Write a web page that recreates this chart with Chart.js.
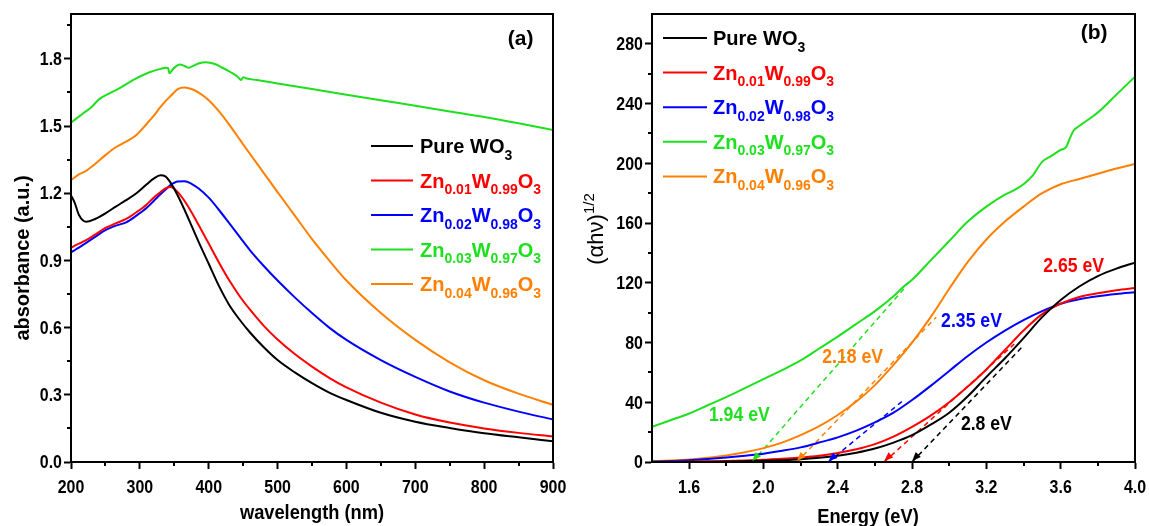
<!DOCTYPE html>
<html>
<head>
<meta charset="utf-8">
<title>Zn-doped WO3 optical absorption</title>
<script src="https://cdn.jsdelivr.net/npm/chart.js@4.4.1/dist/chart.umd.min.js"></script>
<style>
  html, body { margin: 0; padding: 0; background: #fff; }
  body { width: 1149px; height: 526px; position: relative; overflow: hidden; }
  .panel { position: absolute; top: 0; height: 526px; }
  #panelA { left: 0; width: 580px; }
  #panelB { left: 580px; width: 569px; }
</style>
</head>
<body>
<div class="panel" id="panelA"><canvas id="absChart"></canvas></div>
<div class="panel" id="panelB"><canvas id="taucChart"></canvas></div>
<script>
'use strict';

const FONT = "'Liberation Sans', Arial, Helvetica, sans-serif";
const SQUEEZE = 0.84;   // the axis lettering is set condensed

// sample names (_{..} = subscript) and colours
const names  = ['Pure WO_{3}', 'Zn_{0.01}W_{0.99}O_{3}', 'Zn_{0.02}W_{0.98}O_{3}', 'Zn_{0.03}W_{0.97}O_{3}', 'Zn_{0.04}W_{0.96}O_{3}'];
const colors = ['#000000', '#ff0000', '#0000ff', '#1ee01e', '#ff8000'];

/* (a) absorbance vs wavelength */
const wavelength = [200, 205, 212, 222, 235, 250, 265, 280, 295, 310, 320, 330, 337, 345, 355, 365, 375, 385,
                    400, 415, 430, 445, 460, 480, 500, 525, 550, 575, 600, 650, 700, 750, 800, 850, 900];
const absPure = [1.19, 1.16, 1.10, 1.072, 1.085, 1.11, 1.14, 1.169, 1.20, 1.24, 1.265, 1.28, 1.275, 1.245, 1.19, 1.125, 1.055, 0.985,
                 0.885, 0.785, 0.70, 0.635, 0.578, 0.512, 0.455, 0.40, 0.352, 0.31, 0.277, 0.22, 0.18, 0.152, 0.128, 0.11, 0.093];
const absZn01 = [0.956, 0.965, 0.975, 0.99, 1.015, 1.045, 1.065, 1.085, 1.115, 1.15, 1.18, 1.205, 1.222, 1.228, 1.205, 1.165, 1.115, 1.06,
                 0.975, 0.89, 0.81, 0.74, 0.68, 0.608, 0.547, 0.482, 0.426, 0.376, 0.333, 0.265, 0.212, 0.176, 0.15, 0.13, 0.114];
const absZn02 = [0.936, 0.945, 0.958, 0.978, 1.005, 1.035, 1.055, 1.07, 1.10, 1.135, 1.165, 1.195, 1.215, 1.237, 1.252, 1.253, 1.242, 1.222,
                 1.18, 1.125, 1.065, 1.005, 0.945, 0.875, 0.81, 0.735, 0.665, 0.60, 0.545, 0.455, 0.38, 0.315, 0.265, 0.225, 0.19];
const absZn04 = [1.258, 1.27, 1.285, 1.30, 1.33, 1.37, 1.405, 1.43, 1.46, 1.51, 1.545, 1.585, 1.61, 1.635, 1.665, 1.672, 1.665, 1.65,
                 1.615, 1.565, 1.505, 1.44, 1.375, 1.29, 1.205, 1.10, 0.995, 0.90, 0.81, 0.665, 0.545, 0.445, 0.365, 0.305, 0.255];
// the Zn0.03 scan has its own points (small steps near 342, 372 and 448 nm)
const waveZn03 = [200, 217, 230, 241, 255, 270, 290, 314, 330, 338, 341, 343, 347, 352, 358, 365, 371, 375, 386,
                  396, 408, 420, 432, 442, 447, 450, 455, 470, 500, 550, 600, 650, 700, 750, 800, 850, 900];
const absZn03  = [1.515, 1.555, 1.585, 1.62, 1.645, 1.668, 1.705, 1.74, 1.755, 1.76, 1.758, 1.735, 1.75, 1.765, 1.774, 1.768, 1.76, 1.765, 1.78,
                  1.785, 1.778, 1.76, 1.74, 1.72, 1.705, 1.718, 1.712, 1.705, 1.69, 1.665, 1.64, 1.615, 1.59, 1.565, 1.54, 1.512, 1.482];

const waveTicks = [200, 300, 400, 500, 600, 700, 800, 900];
const waveMinor = [250, 350, 450, 550, 650, 750, 850];
const absTicks  = [0, 0.3, 0.6, 0.9, 1.2, 1.5, 1.8];
const absMinor  = [0.15, 0.45, 0.75, 1.05, 1.35, 1.65, 1.95];

/* (b) Tauc plot, (alpha h nu)^1/2 vs photon energy */
const energy = [1.4, 1.5, 1.6, 1.7, 1.8, 1.9, 2.0, 2.1, 2.2, 2.3, 2.4, 2.5, 2.6, 2.7,
                2.8, 2.9, 3.0, 3.1, 3.2, 3.3, 3.4, 3.5, 3.6, 3.7, 3.8, 3.9, 4.0];
const taucPure = [0, 0, 0.1, 0.2, 0.3, 0.5, 0.8, 1.2, 1.8, 2.8, 4.2, 6.2, 9, 13,
                  18, 25, 33, 44, 57, 69.5, 83, 97, 108.5, 117.5, 124.5, 129.5, 133.5];
const taucZn01 = [0, 0.1, 0.3, 0.5, 0.7, 1.0, 1.5, 2.1, 3, 4.2, 6, 8.5, 12, 17,
                  23.5, 31, 40, 50.5, 62, 75, 88, 99, 106, 110.5, 113, 115, 116.5];
const taucZn02 = [0.3, 0.6, 1.2, 2, 3, 4.2, 5.6, 7.5, 9.8, 13, 16.5, 21, 26.5, 33,
                  41.5, 51, 61, 71, 80, 88, 95, 101, 106, 109, 111, 112.5, 113.7];
const taucZn04 = [0.5, 1, 1.7, 2.8, 4.3, 6.5, 9.3, 13, 18, 24, 31.5, 40.5, 51.5, 65,
                  80, 97, 116, 134, 149, 161, 171, 180, 186, 189.5, 193, 196.5, 199.5];
const energyZn03 = [1.4, 1.5, 1.6, 1.7, 1.8, 1.9, 2.0, 2.1, 2.2, 2.3, 2.4, 2.5, 2.6, 2.7, 2.76, 2.8, 2.9,
                    3.0, 3.1, 3.2, 3.3, 3.35, 3.4, 3.45, 3.5, 3.55, 3.6, 3.63, 3.65, 3.67, 3.7, 3.8, 3.9, 4.0];
const taucZn03   = [23.5, 28, 32.5, 38, 43.5, 49.5, 55.5, 61.5, 68, 76, 84, 92.5, 101, 111, 118, 122, 135,
                    148, 161, 171, 179, 182, 186, 192, 201, 205, 209, 211, 217, 222, 225, 234, 246, 258];

// band gaps (x-intercepts) and the upper end of each fitted line, same order as names
const bandGap    = [2.8, 2.65, 2.35, 1.94, 2.18];
const fitEndE    = [3.40, 3.35, 2.76, 2.77, 2.93];
const fitEndTauc = [78, 79, 42, 118, 97];

const energyTicks = [1.6, 2.0, 2.4, 2.8, 3.2, 3.6, 4.0];
const energyMinor = [1.8, 2.2, 2.6, 3.0, 3.4, 3.8];
const taucTicks   = [0, 40, 80, 120, 160, 200, 240, 280];
const taucMinor   = [20, 60, 100, 140, 180, 220, 260];

// ---------- helpers ----------
const xy = (xs, ys) => xs.map((x, i) => ({ x, y: ys[i] }));

function richParts(s) {
  const parts = [];
  const re = /([_^])\{([^}]*)\}|([^_^]+)/g;
  let m;
  while ((m = re.exec(s))) parts.push(m[3] ? { t: m[3], k: '' } : { t: m[2], k: m[1] });
  return parts;
}

// text with sub/superscripts; y is the baseline, sq squeezes it along the text direction
function drawRich(ctx, s, x, y, size, align, sq = 1, weight = 'bold') {
  const parts = richParts(s);
  const font = k => `${weight} ${k ? Math.round(size * 0.68) : size}px ${FONT}`;
  let w = 0;
  parts.forEach(p => { ctx.font = font(p.k); p.w = ctx.measureText(p.t).width; w += p.w; });
  ctx.save();
  ctx.translate(x, y);
  ctx.scale(sq, 1);
  let cx = align === 'center' ? -w / 2 : 0;
  ctx.textAlign = 'left';
  ctx.textBaseline = 'alphabetic';
  parts.forEach(p => {
    ctx.font = font(p.k);
    const dy = p.k === '_' ? size * 0.33 : p.k === '^' ? -size * 0.42 : 0;
    ctx.fillText(p.t, cx, dy);
    cx += p.w;
  });
  ctx.restore();
}

function drawMinor(ctx, scale, values, len) {
  const a = scale.chart.chartArea;
  values.forEach(v => {
    const p = Math.round(scale.getPixelForValue(v));
    ctx.beginPath();
    if (scale.isHorizontal()) { ctx.moveTo(p, a.bottom); ctx.lineTo(p, a.bottom + len); }
    else { ctx.moveTo(a.left, p); ctx.lineTo(a.left - len, p); }
    ctx.stroke();
  });
}

// condensed tick labels, placed from the scale's own ticks
function drawTickLabels(ctx, scale) {
  const a = scale.chart.chartArea;
  ctx.fillStyle = '#000';
  ctx.font = `bold 19px ${FONT}`;
  scale.ticks.forEach(t => {
    const p = scale.getPixelForValue(t.value);
    ctx.save();
    if (scale.isHorizontal()) {
      ctx.translate(p, a.bottom + 31);
      ctx.textAlign = 'center';
      ctx.textBaseline = 'alphabetic';
    } else {
      ctx.translate(a.left - 9, p + 1);
      ctx.textAlign = 'right';
      ctx.textBaseline = 'middle';
    }
    ctx.scale(SQUEEZE, 1);
    ctx.fillText(t.label, 0, 0);
    ctx.restore();
  });
}

// frame, ticks, axis titles, panel tag, legend and notes
function makeDecor(cfg) {
  return {
    id: 'decor',
    afterDraw(chart) {
      const { ctx, chartArea: a, scales } = chart;
      ctx.save();
      ctx.strokeStyle = '#000';
      ctx.lineWidth = 2;
      ctx.strokeRect(a.left, a.top, a.right - a.left, a.bottom - a.top);
      drawMinor(ctx, scales.x, cfg.minorX, 4);
      drawMinor(ctx, scales.y, cfg.minorY, 4);
      drawTickLabels(ctx, scales.x);
      drawTickLabels(ctx, scales.y);

      // arrow heads at the x-intercepts of the fitted lines
      chart.data.datasets.forEach((ds, i) => {
        if (!ds.fitLine) return;
        const [tip, tail] = chart.getDatasetMeta(i).data;
        const ang = Math.atan2(tip.y - tail.y, tip.x - tail.x);
        ctx.save();
        ctx.translate(tip.x, tip.y - 1);
        ctx.rotate(ang);
        ctx.beginPath();
        ctx.moveTo(0, 0);
        ctx.lineTo(-9, -3.5);
        ctx.lineTo(-9, 3.5);
        ctx.closePath();
        ctx.fillStyle = ds.borderColor;
        ctx.fill();
        ctx.restore();
      });

      ctx.fillStyle = '#000';
      drawRich(ctx, cfg.xTitle, cfg.xTitleAt[0], cfg.xTitleAt[1], 21, 'center', 0.87);
      ctx.save();
      ctx.translate(cfg.yTitleAt[0], cfg.yTitleAt[1]);
      ctx.rotate(-Math.PI / 2);
      drawRich(ctx, cfg.yTitle, 0, 0, cfg.yTitleSize, 'center', cfg.yTitleSq, cfg.yTitleWeight);
      ctx.restore();

      drawRich(ctx, cfg.tag, scales.x.getPixelForValue(cfg.tagAt[0]), scales.y.getPixelForValue(cfg.tagAt[1]), 21, 'center');

      // legend
      const lg = cfg.legend;
      names.forEach((name, i) => {
        const y = lg.top + i * lg.step;
        ctx.strokeStyle = colors[i];
        ctx.lineWidth = 2;
        ctx.beginPath();
        ctx.moveTo(lg.x0, y);
        ctx.lineTo(lg.x1, y);
        ctx.stroke();
        ctx.fillStyle = colors[i];
        drawRich(ctx, name, lg.text, y + 7, 20, 'left');
      });

      (cfg.notes || []).forEach(n => {
        ctx.fillStyle = n.color;
        drawRich(ctx, n.text, scales.x.getPixelForValue(n.at[0]), scales.y.getPixelForValue(n.at[1]) + 7, 21, 'center', SQUEEZE);
      });
      ctx.restore();
    }
  };
}

function axis(ticks, fmt, extra) {
  return Object.assign({
    type: 'linear',
    afterBuildTicks: s => { s.ticks = ticks.map(v => ({ value: v })); },
    ticks: { display: false, autoSkip: false, callback: fmt },
    grid: { drawOnChartArea: false, drawTicks: true, tickLength: 7, tickWidth: 2, tickColor: '#000' },
    border: { display: true, color: '#000', width: 2 }
  }, extra);
}

const curve = (label, color, data) => ({
  label, data, borderColor: color, backgroundColor: color,
  borderWidth: 2, pointRadius: 0, cubicInterpolationMode: 'monotone', fill: false
});

const base = {
  responsive: true,
  maintainAspectRatio: false,
  animation: false,
  devicePixelRatio: 1,
  plugins: { legend: { display: false }, tooltip: { enabled: false } }
};

// ---------- (a) ----------
new Chart(document.getElementById('absChart'), {
  type: 'line',
  data: {
    datasets: [
      curve(names[0], colors[0], xy(wavelength, absPure)),
      curve(names[1], colors[1], xy(wavelength, absZn01)),
      curve(names[2], colors[2], xy(wavelength, absZn02)),
      curve(names[3], colors[3], xy(waveZn03, absZn03)),
      curve(names[4], colors[4], xy(wavelength, absZn04))
    ]
  },
  options: Object.assign({}, base, {
    layout: { padding: { top: 14, right: 27, left: 0, bottom: 0 } },
    scales: {
      x: axis(waveTicks, v => String(v), { min: 200, max: 900, afterFit: s => { s.height = 64; } }),
      y: axis(absTicks, v => v.toFixed(1), { min: 0, max: 2.0, afterFit: s => { s.width = 71; } })
    }
  }),
  plugins: [makeDecor({
    minorX: waveMinor, minorY: absMinor,
    xTitle: 'wavelength (nm)', xTitleAt: [312, 519],
    yTitle: 'absorbance (a.u.)', yTitleAt: [29, 258], yTitleSize: 21, yTitleSq: 0.95,
    tag: '(a)', tagAt: [853, 1.86],
    legend: { x0: 371, x1: 413, text: 420, top: 146, step: 34.5 }
  })]
});

// ---------- (b) ----------
const fitLines = bandGap.map((g, i) => ({
  label: names[i] + ' fit',
  fitLine: true,
  data: [{ x: g, y: 0 }, { x: fitEndE[i], y: fitEndTauc[i] }],
  borderColor: colors[i],
  borderWidth: 1.5,
  borderDash: [5, 4],
  pointRadius: 0,
  tension: 0,
  fill: false
}));

new Chart(document.getElementById('taucChart'), {
  type: 'line',
  data: {
    datasets: [
      curve(names[0], colors[0], xy(energy, taucPure)),
      curve(names[1], colors[1], xy(energy, taucZn01)),
      curve(names[2], colors[2], xy(energy, taucZn02)),
      curve(names[3], colors[3], xy(energyZn03, taucZn03)),
      curve(names[4], colors[4], xy(energy, taucZn04))
    ].concat(fitLines)
  },
  options: Object.assign({}, base, {
    layout: { padding: { top: 14, right: 14, left: 0, bottom: 0 } },
    scales: {
      x: axis(energyTicks, v => v.toFixed(1), { min: 1.4, max: 4.0, afterFit: s => { s.height = 64; } }),
      y: axis(taucTicks, v => String(v), { min: 0, max: 300, afterFit: s => { s.width = 72; } })
    }
  }),
  plugins: [makeDecor({
    minorX: energyMinor, minorY: taucMinor,
    xTitle: 'Energy (eV)', xTitleAt: [288, 523],
    yTitle: '(αhν)^{1/2}', yTitleAt: [23, 229], yTitleSize: 22, yTitleSq: 1, yTitleWeight: 'normal',
    tag: '(b)', tagAt: [3.78, 283],
    legend: { x0: 83, x1: 127, text: 133, top: 38, step: 34.6 },
    notes: [
      { text: bandGap[3] + ' eV', color: colors[3], at: [1.87, 32] },
      { text: bandGap[4] + ' eV', color: colors[4], at: [2.48, 71] },
      { text: bandGap[2] + ' eV', color: colors[2], at: [3.12, 95] },
      { text: bandGap[1] + ' eV', color: colors[1], at: [3.67, 132] },
      { text: bandGap[0] + ' eV', color: colors[0], at: [3.2, 26] }
    ]
  })]
});
</script>
</body>
</html>
